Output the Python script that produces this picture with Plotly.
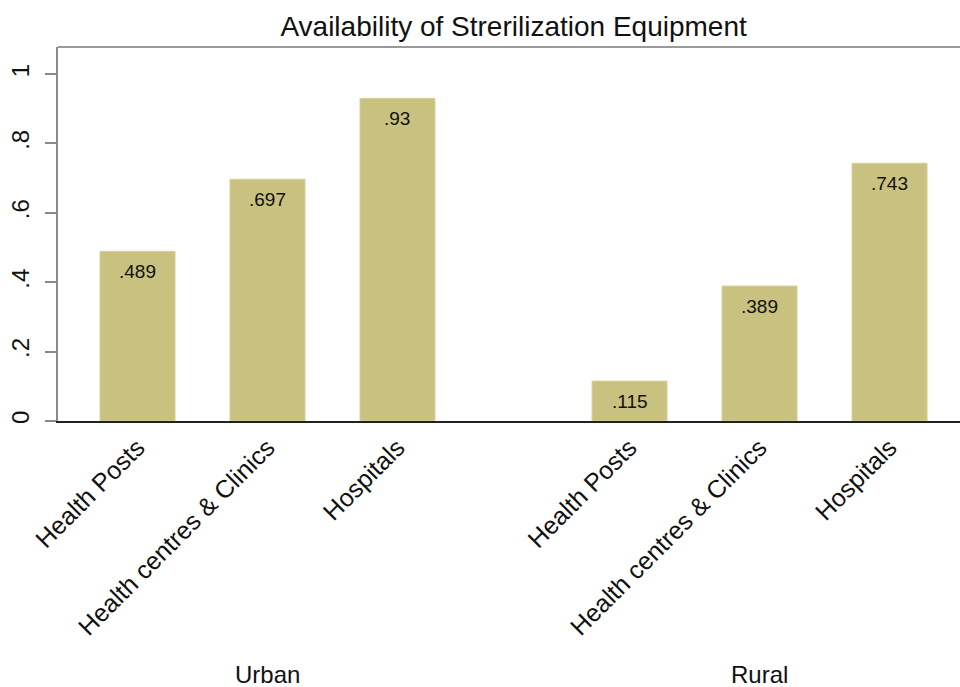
import plotly.graph_objects as go

groups = ["Urban", "Rural"]
facilities = ["Health Posts", "Health centres & Clinics", "Hospitals"]
urban_values = [0.489, 0.697, 0.93]
rural_values = [0.115, 0.389, 0.743]
y_tick_vals = [0, 0.2, 0.4, 0.6, 0.8, 1]
y_tick_text = ["0", ".2", ".4", ".6", ".8", "1"]

values_by_group = [urban_values, rural_values]
group_offset = 3.785  # spacing between group starts (in bar slots)

xs, ys, labels = [], [], []
for gi, vals in enumerate(values_by_group):
    for fi, v in enumerate(vals):
        xs.append(gi * group_offset + fi)
        ys.append(v)
        labels.append(facilities[fi])

def fmt(v):
    s = ("%.3f" % v).rstrip("0")
    return s[1:] if s.startswith("0") else s

FONT = "Liberation Sans, Arial"
bar_color = "#C9C17F"
fig = go.Figure()
fig.add_trace(go.Bar(x=xs, y=ys, width=0.577, marker=dict(color=bar_color, line=dict(color="#D6D09A", width=1)),
                     showlegend=False, hoverinfo="skip"))

for x, y in zip(xs, ys):
    fig.add_annotation(x=x, y=y, text=fmt(y), showarrow=False, yanchor="top", yshift=-8,
                       font=dict(family=FONT, size=19, color="#111"))

for gi, g in enumerate(groups):
    fig.add_annotation(x=gi * group_offset + 1, y=-0.679, xref="x", yref="paper", text=g, showarrow=False,
                       yanchor="middle", font=dict(family=FONT, size=24, color="#111"))

fig.add_shape(type="line", xref="paper", yref="paper", x0=0, x1=1, y0=1, y1=1,
              line=dict(color="#9A9A9A", width=2))

fig.update_layout(
    width=960, height=687,
    margin=dict(l=58, r=0, t=47, b=266, autoexpand=False),
    paper_bgcolor="white", plot_bgcolor="white",
    title=dict(text="Availability of Strerilization Equipment", x=0.535, xanchor="center", y=0.962, yanchor="middle",
               font=dict(family=FONT, size=28, color="#111")),
    font=dict(family=FONT, color="#111"),
)
fig.update_xaxes(range=[-0.6115, 6.327], tickmode="array", tickvals=xs, ticktext=labels, tickangle=-45,
                 tickfont=dict(size=25, color="#111"), showline=True, linecolor="#222", linewidth=2,
                 ticks="", showgrid=False, zeroline=False, automargin=False)
fig.update_yaxes(range=[0, 1.078], tickmode="array", tickvals=y_tick_vals, ticktext=y_tick_text, tickangle=-90,
                 tickfont=dict(size=24, color="#111"), showline=True, linecolor="#8A8A8A", linewidth=2,
                 ticks="outside", ticklen=11, tickcolor="#8A8A8A", tickwidth=2, showgrid=False, zeroline=False,
                 automargin=False, ticklabelstandoff=6)

fig.write_html("out.html", config={"displayModeBar": False},
               post_script="document.body.style.margin='0';document.body.style.overflow='hidden';")
